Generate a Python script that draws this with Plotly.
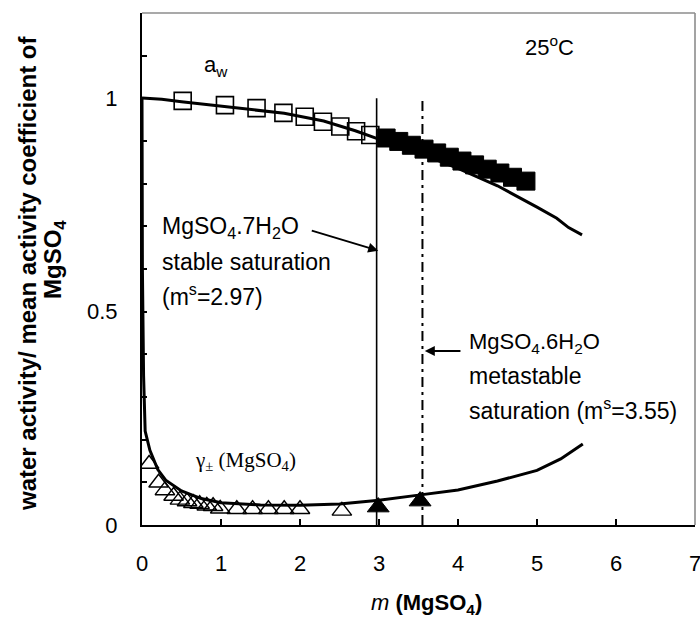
import plotly.graph_objects as go

# ---- data ----
aw_curve_m = [0, 0.1, 0.25, 0.5, 1.0, 1.5, 1.8, 2.3, 2.7, 2.97, 3.5, 4.0, 4.5, 5.0, 5.25, 5.4, 5.57]
aw_curve_v = [1.001, 1.0, 0.998, 0.992, 0.982, 0.972, 0.965, 0.947, 0.924, 0.906, 0.872, 0.836, 0.795, 0.745, 0.719, 0.697, 0.68]

gam_curve_m = [0, 0.005, 0.02, 0.04, 0.1, 0.2, 0.3, 0.5, 0.75, 1.0, 1.5, 2.0, 2.5, 3.0, 3.5, 4.0, 4.5, 5.0, 5.3, 5.58]
gam_curve_v = [1.0, 0.6, 0.35, 0.22, 0.175, 0.13, 0.105, 0.08, 0.062, 0.052, 0.047, 0.046, 0.049, 0.058, 0.070, 0.082, 0.103, 0.128, 0.155, 0.19]

aw_open_m = [0.515, 1.05, 1.45, 1.79, 2.06, 2.29, 2.51, 2.71, 2.89]
aw_open_v = [0.994, 0.984, 0.977, 0.966, 0.957, 0.945, 0.934, 0.923, 0.914]

aw_fill_m = [3.09, 3.25, 3.41, 3.57, 3.73, 3.89, 4.05, 4.21, 4.37, 4.53, 4.69, 4.86]
aw_fill_v = [0.907, 0.899, 0.890, 0.881, 0.872, 0.862, 0.853, 0.844, 0.834, 0.825, 0.815, 0.806]

gam_open_m = [0.09, 0.21, 0.29, 0.40, 0.48, 0.57, 0.65, 0.73, 0.82, 0.90, 0.99, 1.20, 1.40, 1.60, 1.80, 2.00, 2.53]
gam_open_v = [0.143, 0.099, 0.081, 0.068, 0.059, 0.055, 0.051, 0.049, 0.045, 0.044, 0.038, 0.037, 0.037, 0.037, 0.037, 0.037, 0.033]

gam_fill_m = [2.99, 3.52]
gam_fill_v = [0.042, 0.056]

sat_stable = 2.97
sat_meta = 3.55
sat_line_y = [0, 1.0]

x_ticks = [0, 1, 2, 3, 4, 5, 6, 7]
y_ticks = [0, 0.1, 0.2, 0.3, 0.4, 0.5, 0.6, 0.7, 0.8, 0.9, 1.0, 1.1]
y_ticktext = ["0", "", "", "", "", "0.5", "", "", "", "", "1", ""]

FONT = "Arial, Liberation Sans, sans-serif"
SERIF = "Times New Roman, Liberation Serif, serif"

fig = go.Figure()

# model curves
fig.add_trace(go.Scatter(x=aw_curve_m, y=aw_curve_v, mode="lines",
                         line=dict(color="black", width=3), hoverinfo="skip"))
fig.add_trace(go.Scatter(x=gam_curve_m, y=gam_curve_v, mode="lines",
                         line=dict(color="black", width=3), hoverinfo="skip"))

# saturation lines
fig.add_trace(go.Scatter(x=[sat_stable, sat_stable], y=sat_line_y, mode="lines",
                         line=dict(color="black", width=1.6)))
fig.add_trace(go.Scatter(x=[sat_meta, sat_meta], y=sat_line_y, mode="lines",
                         line=dict(color="black", width=2, dash="10px,5px,3px,5px")))

# experimental points
fig.add_trace(go.Scatter(x=aw_open_m, y=aw_open_v, mode="markers",
                         marker=dict(symbol="square-open", size=17, color="black",
                                     line=dict(color="black", width=1.6))))
fig.add_trace(go.Scatter(x=aw_fill_m, y=aw_fill_v, mode="markers",
                         marker=dict(symbol="square", size=18, color="black",
                                     line=dict(color="black", width=1))))
fig.add_trace(go.Scatter(x=gam_open_m, y=gam_open_v, mode="markers",
                         marker=dict(symbol="triangle-up-open", size=17, color="black",
                                     line=dict(color="black", width=1.4))))
fig.add_trace(go.Scatter(x=gam_fill_m, y=gam_fill_v, mode="markers",
                         marker=dict(symbol="triangle-up", size=19, color="black",
                                     line=dict(color="black", width=1))))

ann = []
def txt(x, y, text, size=22, xanchor="left", family=FONT, xref="x", yref="y", **kw):
    ann.append(dict(x=x, y=y, xref=xref, yref=yref, text=text, showarrow=False,
                    xanchor=xanchor, yanchor="middle",
                    font=dict(family=family, size=size, color="black"), **kw))

txt(0.94, 1.076, "a<sub>w</sub>", xanchor="center")
txt(5.16, 1.123, "25<sup>o</sup>C", xanchor="center")
txt(0.228, 0.698, "MgSO<sub>4</sub>.7H<sub>2</sub>O", size=23)
txt(0.228, 0.616, "stable saturation", size=23)
txt(0.228, 0.539, "(m<sup>s</sup>=2.97)", size=23)
txt(4.11, 0.4265, "MgSO<sub>4</sub>.6H<sub>2</sub>O", size=22)
txt(4.11, 0.349, "metastable", size=23)
txt(4.11, 0.2718, "saturation (m<sup>s</sup>=3.55)", size=23)
txt(0.64, 0.151, "γ<sub>±</sub> (MgSO<sub>4</sub>)", size=21, family=SERIF)

# arrows
ann.append(dict(x=2.99, y=0.643, ax=2.13, ay=0.691, xref="x", yref="y", axref="x", ayref="y",
                text="", showarrow=True, arrowhead=2, arrowsize=1, arrowwidth=2, arrowcolor="black"))
ann.append(dict(x=3.58, y=0.408, ax=4.05, ay=0.408, xref="x", yref="y", axref="x", ayref="y",
                text="", showarrow=True, arrowhead=2, arrowsize=1, arrowwidth=2, arrowcolor="black"))

# axis titles
W0, W1, H0, H1 = 142, 695, 13, 525
def px2paper(px, py):
    return (px - W0) / (W1 - W0), (H1 - py) / (H1 - H0)

xt = px2paper(426, 604)
txt(xt[0], xt[1], "<i>m</i> <b>(MgSO<sub>4</sub>)</b>", xanchor="center", xref="paper", yref="paper")
y1 = px2paper(27, 273)
txt(y1[0], y1[1], "<b>water activity/ mean activity coefficient of</b>", size=24,
    xanchor="center", xref="paper", yref="paper", textangle=-90)
y2 = px2paper(54, 260)
txt(y2[0], y2[1], "<b>MgSO<sub>4</sub></b>", size=24,
    xanchor="center", xref="paper", yref="paper", textangle=-90)

fig.update_layout(
    width=700, height=618,
    margin=dict(l=142, r=5, t=13, b=93, autoexpand=False),
    paper_bgcolor="white", plot_bgcolor="white",
    showlegend=False,
    annotations=ann,
    shapes=[
        dict(type="line", xref="paper", yref="paper", x0=0, x1=1, y0=1, y1=1,
             line=dict(color="#8c8c8c", width=1.6)),
        dict(type="line", xref="paper", yref="paper", x0=1, x1=1, y0=0, y1=1,
             line=dict(color="#8c8c8c", width=1.6)),
    ],
    xaxis=dict(range=[0, 7], tickvals=x_ticks, ticks="inside", ticklen=6, tickwidth=2,
               tickcolor="black", showline=True, linecolor="black", linewidth=2,
               showgrid=False, zeroline=False, ticklabelstandoff=18,
               ticklabeloverflow="allow", automargin=False,
               tickfont=dict(family=FONT, size=22, color="black")),
    yaxis=dict(range=[0, 1.2], tickvals=y_ticks, ticktext=y_ticktext, ticks="inside",
               ticklen=5, tickwidth=2, tickcolor="black", showline=True, linecolor="black",
               linewidth=2, showgrid=False, zeroline=False, ticklabelstandoff=18,
               automargin=False,
               tickfont=dict(family=FONT, size=22, color="black")),
)

fig.write_html("out.html")
